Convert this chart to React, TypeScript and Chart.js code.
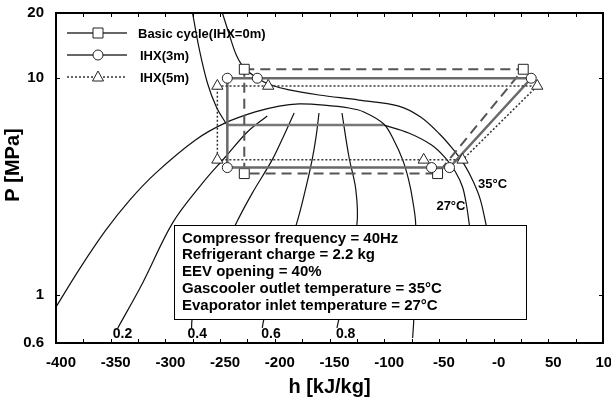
import React, { useEffect, useRef } from 'react';
import { Chart, registerables } from 'chart.js';

Chart.register(...registerables);

const FONT = '"Liberation Sans", Arial, Helvetica, sans-serif';

// Axis ticks
const hTickValues = [-400, -350, -300, -250, -200, -150, -100, -50, 0, 50, 100];
const hAllTicks = [-375, -350, -325, -300, -275, -250, -225, -200, -175, -150, -125, -100, -75, -50, -25, 0, 25, 50, 75];
const pTickValues = [0.6, 1, 10, 20];
const pInnerTicks = [1, 10];

// Background property lines [h kJ/kg, P MPa]
const saturationLine: [number, number][] = [
  [-400, 0.88], [-378, 1.33], [-354.5, 1.99], [-332.6, 2.74], [-308.9, 3.65], [-272.5, 5.19],
  [-245.2, 6.22], [-217.9, 6.99], [-196, 7.44], [-177.8, 7.61], [-155, 7.52], [-132.2, 7.29],
  [-118.6, 6.99], [-100.4, 6.15], [-91.3, 5.19], [-83.1, 4.2], [-77.6, 3.39], [-74, 2.74],
  [-71.2, 2.1], [-73, 0.766], [-74, 0.633],
];
const iso27Liquid: [number, number][] = [
  [-275.2, 20], [-268.9, 13.5], [-261.6, 9.51], [-253.4, 7.37], [-244.3, 6.15],
];
const iso27TwoPhase: [number, number][] = [[-244.3, 6.08], [-100.4, 6.08]];
const iso27Vapor: [number, number][] = [
  [-100.4, 6.08], [-77.6, 5.59], [-56.7, 4.92], [-43.9, 4.28], [-34.8, 3.69], [-28.4, 3.15],
  [-24.8, 2.6], [-22, 2.08],
];
const iso35: [number, number][] = [
  [-247.9, 20], [-241.5, 15.83], [-235.2, 12.8], [-227.9, 11.15], [-216, 10.02], [-206, 9.41],
  [-186.9, 8.83], [-159.6, 8.37], [-123.1, 7.93], [-86.7, 7.44], [-66.7, 6.62], [-49.4, 5.53],
  [-36.6, 4.67], [-26.6, 3.98], [-18.4, 3.32], [-12, 2.74], [-6.6, 2.08],
];
const quality02: [number, number][] = [
  [-343.5, 0.704], [-320.8, 1.135], [-293.4, 2.15], [-266.1, 3.28], [-245.2, 4.33], [-225.1, 5.65], [-206.9, 6.7],
];
const quality04: [number, number][] = [
  [-276.1, 0.704], [-275.2, 0.78], [-236.1, 2.1], [-220.6, 2.95], [-202.4, 4.2], [-192.3, 5.36], [-182.3, 6.91],
];
const quality06: [number, number][] = [
  [-211.5, 0.704], [-209.7, 0.78], [-180.5, 2.1], [-171.4, 3.15], [-165.9, 4.2], [-162.3, 5.36], [-159.6, 6.91],
];
const quality08: [number, number][] = [
  [-143.2, 0.704], [-141.3, 0.78], [-125, 2.1], [-125.9, 3.05], [-132.2, 4.33], [-138.6, 6.91],
];
const qualityLabels = ['0.2', '0.4', '0.6', '0.8'];

// Cycles
const basicCycle: [number, number][] = [
  [-227.9, 11.0], [27.1, 11.0], [-51.2, 3.63], [-227.9, 3.63], [-227.9, 11.0],
];
const ihx3Cycle: [number, number][] = [
  [-243.4, 3.87], [-56.7, 3.87], [-40.3, 3.87], [34.4, 10.0], [-216.0, 10.0], [-243.4, 10.0], [-243.4, 3.87],
];
const ihx5Cycle: [number, number][] = [
  [-252.5, 4.2], [-63.9, 4.2], [-28.4, 4.2], [39.9, 9.21], [-206.0, 9.21], [-252.5, 9.21], [-252.5, 4.2],
];

const seriesNames = ['Basic cycle(IHX=0m)', 'IHX(3m)', 'IHX(5m)'];
const tempLabels = ['27°C', '35°C'];
const tempLabelAnchors: [number, number][] = [[-39, 2.55], [-1, 3.22]];
const infoLines = [
  'Compressor frequency = 40Hz',
  'Refrigerant charge = 2.2 kg',
  'EEV opening = 40%',
  'Gascooler outlet temperature = 35°C',
  'Evaporator inlet temperature = 27°C',
];

const toXY = (arr: [number, number][]) => arr.map(([x, y]) => ({ x, y }));

const bgLine = (data: [number, number][], extra: any = {}) => ({
  data: toXY(data),
  showLine: true,
  borderColor: '#111',
  borderWidth: 1.2,
  pointRadius: 0,
  tension: 0.35,
  order: 5,
  ...extra,
});

const decorPlugin = {
  id: 'decor',
  afterDraw(chart: any) {
    const { ctx, chartArea: a, scales } = chart;
    const xs = scales.x;
    const ys = scales.y;
    ctx.save();
    // frame
    ctx.strokeStyle = '#000';
    ctx.lineWidth = 2;
    ctx.strokeRect(a.left, a.top, a.right - a.left, a.bottom - a.top);
    // inner ticks
    ctx.lineWidth = 1;
    ctx.beginPath();
    for (const v of hAllTicks) {
      const px = Math.round(xs.getPixelForValue(v)) + 0.5;
      ctx.moveTo(px, a.bottom);
      ctx.lineTo(px, a.bottom - 4);
      ctx.moveTo(px, a.top);
      ctx.lineTo(px, a.top + 4);
    }
    for (const v of pInnerTicks) {
      const py = Math.round(ys.getPixelForValue(v)) + 0.5;
      ctx.moveTo(a.left, py);
      ctx.lineTo(a.left + 4, py);
      ctx.moveTo(a.right, py);
      ctx.lineTo(a.right - 4, py);
    }
    ctx.stroke();

    // quality labels
    ctx.fillStyle = '#000';
    ctx.font = `bold 14px ${FONT}`;
    ctx.textAlign = 'left';
    ctx.textBaseline = 'middle';
    const qLines = [quality02, quality04, quality06, quality08];
    const qOff = [-5, -4, -1, -1];
    qLines.forEach((q, i) => {
      const px = xs.getPixelForValue(q[0][0]) + qOff[i];
      const py = ys.getPixelForValue(q[0][1]) + 6;
      ctx.fillText(qualityLabels[i], px, py);
    });

    // temperature labels
    ctx.font = `bold 13px ${FONT}`;
    ctx.textAlign = 'center';
    tempLabels.forEach((t, i) => {
      const [h, p] = tempLabelAnchors[i];
      ctx.fillText(t, xs.getPixelForValue(h), ys.getPixelForValue(p));
    });

    // info box
    const bx = 174, by = 225, bw = 352, bh = 94;
    ctx.fillStyle = '#fff';
    ctx.fillRect(bx, by, bw, bh);
    ctx.strokeStyle = '#000';
    ctx.lineWidth = 1;
    ctx.strokeRect(bx + 0.5, by + 0.5, bw, bh);
    ctx.fillStyle = '#000';
    ctx.font = `bold 15px ${FONT}`;
    ctx.textAlign = 'left';
    ctx.textBaseline = 'middle';
    infoLines.forEach((t, i) => ctx.fillText(t, 182, 238.5 + i * 16.75));

    // legend
    const rows = [33, 55, 77];
    const styles = [
      { dash: [], color: '#333', w: 1.5 },
      { dash: [], color: '#333', w: 1.5 },
      { dash: [2, 2], color: '#333', w: 1.5 },
    ];
    rows.forEach((ry, i) => {
      ctx.save();
      ctx.strokeStyle = styles[i].color;
      ctx.lineWidth = styles[i].w;
      ctx.setLineDash(styles[i].dash);
      ctx.beginPath();
      ctx.moveTo(67, ry);
      ctx.lineTo(127, ry);
      ctx.stroke();
      ctx.restore();
      ctx.save();
      ctx.fillStyle = '#fff';
      ctx.strokeStyle = '#222';
      ctx.lineWidth = 1;
      ctx.beginPath();
      if (i === 0) ctx.rect(93, ry - 5, 10, 10);
      else if (i === 1) ctx.arc(98, ry, 5, 0, Math.PI * 2);
      else {
        ctx.moveTo(98, ry - 6);
        ctx.lineTo(103.5, ry + 4);
        ctx.lineTo(92.5, ry + 4);
        ctx.closePath();
      }
      ctx.fill();
      ctx.stroke();
      ctx.restore();
      ctx.fillStyle = '#000';
      ctx.font = `bold 13px ${FONT}`;
      ctx.textAlign = 'left';
      ctx.textBaseline = 'middle';
      ctx.fillText(seriesNames[i], i === 0 ? 138 : 140, ry + 1);
    });

    // axis titles
    ctx.fillStyle = '#000';
    ctx.font = `bold 20px ${FONT}`;
    ctx.textAlign = 'center';
    ctx.textBaseline = 'middle';
    ctx.fillText('h [kJ/kg]', (a.left + a.right) / 2, 387);
    ctx.save();
    ctx.translate(13, 165);
    ctx.rotate(-Math.PI / 2);
    ctx.fillText('P [MPa]', 0, 0);
    ctx.restore();
    ctx.restore();
  },
};

export default function App() {
  const ref = useRef<HTMLCanvasElement | null>(null);
  useEffect(() => {
    if (!ref.current) return;
    const chart = new Chart(ref.current, {
      type: 'scatter',
      data: {
        datasets: [
          {
            label: seriesNames[0],
            data: toXY(basicCycle),
            showLine: true,
            borderColor: '#555',
            borderWidth: 2,
            borderDash: [10, 6],
            tension: 0,
            pointStyle: 'rect',
            pointRadius: [7, 7, 7, 7, 0],
            pointBackgroundColor: '#fff',
            pointBorderColor: '#222',
            pointBorderWidth: 1,
            order: 3,
          },
          {
            label: seriesNames[1],
            data: toXY(ihx3Cycle),
            showLine: true,
            borderColor: '#6a6a6a',
            borderWidth: 2.5,
            tension: 0,
            pointStyle: 'circle',
            pointRadius: [5, 5, 5, 5, 5, 5, 0],
            pointBackgroundColor: '#fff',
            pointBorderColor: '#222',
            pointBorderWidth: 1,
            order: 2,
          },
          {
            label: seriesNames[2],
            data: toXY(ihx5Cycle),
            showLine: true,
            borderColor: '#333',
            borderWidth: 1.5,
            borderDash: [2, 2],
            tension: 0,
            pointStyle: 'triangle',
            pointRadius: [6.5, 6.5, 6.5, 6.5, 6.5, 6.5, 0],
            pointBackgroundColor: '#fff',
            pointBorderColor: '#222',
            pointBorderWidth: 1,
            order: 1,
          },
          bgLine(saturationLine),
          bgLine(iso27Liquid),
          bgLine(iso27TwoPhase, { borderColor: '#777', borderWidth: 2.5, tension: 0 }),
          bgLine(iso27Vapor),
          bgLine(iso35),
          bgLine(quality02),
          bgLine(quality04),
          bgLine(quality06),
          bgLine(quality08),
        ],
      },
      options: {
        animation: false,
        responsive: false,
        events: [],
        layout: { padding: { top: 13, right: 6, left: 0, bottom: 0 } },
        plugins: { legend: { display: false }, tooltip: { enabled: false } },
        scales: {
          x: {
            type: 'linear',
            min: -400,
            max: 100,
            grid: { display: false, drawTicks: false },
            border: { display: false },
            afterFit: (s: any) => {
              s.height = 56;
              s.paddingLeft = 0;
              s.paddingRight = 0;
            },
            afterBuildTicks: (s: any) => {
              s.ticks = hTickValues.map((v) => ({ value: v }));
            },
            ticks: {
              autoSkip: false,
              maxRotation: 0,
              padding: 11,
              labelOffset: 5,
              color: '#000',
              font: { family: FONT, size: 15, weight: 'bold' },
              callback: (v: any) => (v === 0 ? '-0' : String(v)),
            },
          },
          y: {
            type: 'logarithmic',
            min: 0.6,
            max: 20,
            grid: { display: false, drawTicks: false },
            border: { display: false },
            afterFit: (s: any) => {
              s.width = 56;
              s.paddingTop = 0;
              s.paddingBottom = 0;
            },
            afterBuildTicks: (s: any) => {
              s.ticks = pTickValues.map((v) => ({ value: v }));
            },
            ticks: {
              autoSkip: false,
              padding: 12,
              color: '#000',
              font: { family: FONT, size: 15, weight: 'bold' },
              callback: (v: any) => String(v),
            },
          },
        },
      } as any,
      plugins: [decorPlugin],
    });
    return () => chart.destroy();
  }, []);
  return (
    <div style={{ position: 'fixed', left: 0, top: 0, width: 611, height: 399, background: '#fff' }}>
      <canvas ref={ref} width={611} height={399} style={{ display: 'block' }} />
    </div>
  );
}
